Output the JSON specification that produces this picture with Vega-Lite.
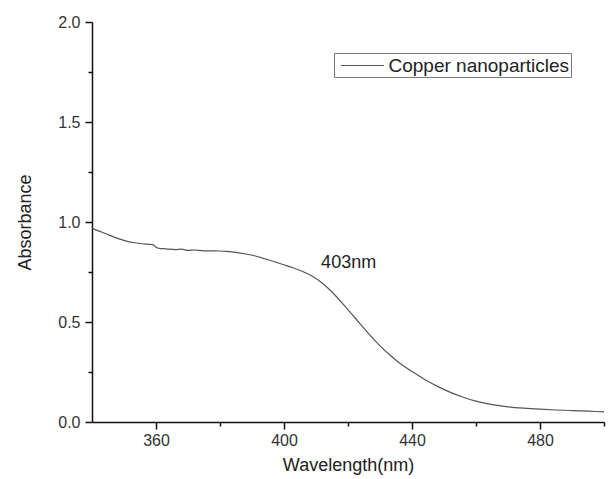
{
  "$schema": "https://vega.github.io/schema/vega-lite/v6.json",
  "width": 512,
  "height": 400,
  "autosize": {"type": "none"},
  "padding": {"left": 92, "top": 22, "right": 4, "bottom": 57},
  "background": "white",
  "config": {"view": {"stroke": null}, "font": "Liberation Sans"},
  "resolve": {"axis": {"x": "independent", "y": "independent"}},
  "layer": [
    {
      "data": {"values": [
        {"wavelength": 340, "absorbance": 0.97, "series": "Copper nanoparticles"},
        {"wavelength": 341, "absorbance": 0.962, "series": "Copper nanoparticles"},
        {"wavelength": 343, "absorbance": 0.95, "series": "Copper nanoparticles"},
        {"wavelength": 345, "absorbance": 0.937, "series": "Copper nanoparticles"},
        {"wavelength": 348, "absorbance": 0.918, "series": "Copper nanoparticles"},
        {"wavelength": 351, "absorbance": 0.903, "series": "Copper nanoparticles"},
        {"wavelength": 354, "absorbance": 0.895, "series": "Copper nanoparticles"},
        {"wavelength": 357, "absorbance": 0.889, "series": "Copper nanoparticles"},
        {"wavelength": 359, "absorbance": 0.887, "series": "Copper nanoparticles"},
        {"wavelength": 360, "absorbance": 0.874, "series": "Copper nanoparticles"},
        {"wavelength": 361, "absorbance": 0.868, "series": "Copper nanoparticles"},
        {"wavelength": 363, "absorbance": 0.866, "series": "Copper nanoparticles"},
        {"wavelength": 366, "absorbance": 0.862, "series": "Copper nanoparticles"},
        {"wavelength": 368, "absorbance": 0.864, "series": "Copper nanoparticles"},
        {"wavelength": 370, "absorbance": 0.858, "series": "Copper nanoparticles"},
        {"wavelength": 372, "absorbance": 0.86, "series": "Copper nanoparticles"},
        {"wavelength": 375, "absorbance": 0.856, "series": "Copper nanoparticles"},
        {"wavelength": 378, "absorbance": 0.856, "series": "Copper nanoparticles"},
        {"wavelength": 380, "absorbance": 0.855, "series": "Copper nanoparticles"},
        {"wavelength": 382, "absorbance": 0.853, "series": "Copper nanoparticles"},
        {"wavelength": 385, "absorbance": 0.848, "series": "Copper nanoparticles"},
        {"wavelength": 388, "absorbance": 0.84, "series": "Copper nanoparticles"},
        {"wavelength": 391, "absorbance": 0.83, "series": "Copper nanoparticles"},
        {"wavelength": 394, "absorbance": 0.816, "series": "Copper nanoparticles"},
        {"wavelength": 397, "absorbance": 0.801, "series": "Copper nanoparticles"},
        {"wavelength": 400, "absorbance": 0.786, "series": "Copper nanoparticles"},
        {"wavelength": 403, "absorbance": 0.77, "series": "Copper nanoparticles"},
        {"wavelength": 406, "absorbance": 0.751, "series": "Copper nanoparticles"},
        {"wavelength": 409, "absorbance": 0.727, "series": "Copper nanoparticles"},
        {"wavelength": 412, "absorbance": 0.694, "series": "Copper nanoparticles"},
        {"wavelength": 415, "absorbance": 0.65, "series": "Copper nanoparticles"},
        {"wavelength": 418, "absorbance": 0.598, "series": "Copper nanoparticles"},
        {"wavelength": 421, "absorbance": 0.543, "series": "Copper nanoparticles"},
        {"wavelength": 424, "absorbance": 0.487, "series": "Copper nanoparticles"},
        {"wavelength": 427, "absorbance": 0.432, "series": "Copper nanoparticles"},
        {"wavelength": 430, "absorbance": 0.381, "series": "Copper nanoparticles"},
        {"wavelength": 433, "absorbance": 0.336, "series": "Copper nanoparticles"},
        {"wavelength": 436, "absorbance": 0.296, "series": "Copper nanoparticles"},
        {"wavelength": 440, "absorbance": 0.252, "series": "Copper nanoparticles"},
        {"wavelength": 444, "absorbance": 0.213, "series": "Copper nanoparticles"},
        {"wavelength": 448, "absorbance": 0.178, "series": "Copper nanoparticles"},
        {"wavelength": 452, "absorbance": 0.148, "series": "Copper nanoparticles"},
        {"wavelength": 456, "absorbance": 0.124, "series": "Copper nanoparticles"},
        {"wavelength": 460, "absorbance": 0.104, "series": "Copper nanoparticles"},
        {"wavelength": 465, "absorbance": 0.087, "series": "Copper nanoparticles"},
        {"wavelength": 470, "absorbance": 0.076, "series": "Copper nanoparticles"},
        {"wavelength": 475, "absorbance": 0.069, "series": "Copper nanoparticles"},
        {"wavelength": 480, "absorbance": 0.064, "series": "Copper nanoparticles"},
        {"wavelength": 485, "absorbance": 0.06, "series": "Copper nanoparticles"},
        {"wavelength": 490, "absorbance": 0.057, "series": "Copper nanoparticles"},
        {"wavelength": 495, "absorbance": 0.054, "series": "Copper nanoparticles"},
        {"wavelength": 500, "absorbance": 0.051, "series": "Copper nanoparticles"}
      ]},
      "mark": {"type": "line", "strokeWidth": 1.2, "interpolate": "monotone"},
      "encoding": {
        "x": {
          "field": "wavelength", "type": "quantitative",
          "scale": {"domain": [340, 500], "nice": false, "zero": false},
          "axis": {
            "orient": "bottom",
            "title": "Wavelength(nm)",
            "values": [360, 400, 440, 480],
            "grid": false, "ticks": true,
            "domainColor": "#111", "domainWidth": 1.5,
            "tickColor": "#111", "tickWidth": 1.5, "tickSize": 7,
            "labelFontSize": 16, "labelColor": "#333", "labelPadding": 3, "labelFlush": false,
            "titleFontSize": 18, "titleFontWeight": "normal", "titleColor": "#222", "titlePadding": 8
          }
        },
        "y": {
          "field": "absorbance", "type": "quantitative",
          "scale": {"domain": [0, 2], "nice": false},
          "axis": {
            "orient": "left",
            "title": "Absorbance",
            "values": [0, 0.5, 1, 1.5, 2],
            "format": ".1f",
            "grid": false, "ticks": true,
            "domainColor": "#111", "domainWidth": 1.5,
            "tickColor": "#111", "tickWidth": 1.5, "tickSize": 7,
            "labelFontSize": 16, "labelColor": "#333", "labelPadding": 5, "labelFlush": false,
            "titleFontSize": 18, "titleFontWeight": "normal", "titleColor": "#222", "titlePadding": 23
          }
        },
        "color": {
          "field": "series", "type": "nominal",
          "scale": {"range": ["#555555"]},
          "legend": {
            "orient": "none", "legendX": 242, "legendY": 31,
            "title": null, "symbolType": "M-2.15,0H2.15", "symbolSize": 400,
            "symbolStrokeWidth": 1.2, "symbolStrokeColor": "#555555", "symbolFillColor": "transparent",
            "labelFontSize": 19, "labelColor": "#222", "labelOffset": 15, "labelLimit": 300,
            "strokeColor": "#777777", "padding": 1.5, "symbolOffset": 16
          }
        }
      }
    },
    {
      "data": {"values": [{"wavelength": 411.6, "absorbance": 0.795, "label": "403nm"}]},
      "mark": {"type": "text", "align": "left", "baseline": "middle", "fontSize": 18, "color": "#222"},
      "encoding": {
        "x": {
          "field": "wavelength", "type": "quantitative",
          "axis": {
            "orient": "bottom", "title": null, "values": [380, 420, 460, 500],
            "labels": false, "grid": false, "domain": false, "ticks": true,
            "tickColor": "#111", "tickWidth": 1.5, "tickSize": 4
          }
        },
        "y": {
          "field": "absorbance", "type": "quantitative",
          "axis": {
            "orient": "left", "title": null, "values": [0.25, 0.75, 1.25, 1.75],
            "labels": false, "grid": false, "domain": false, "ticks": true,
            "tickColor": "#111", "tickWidth": 1.5, "tickSize": 4
          }
        },
        "text": {"field": "label"}
      }
    }
  ]
}
